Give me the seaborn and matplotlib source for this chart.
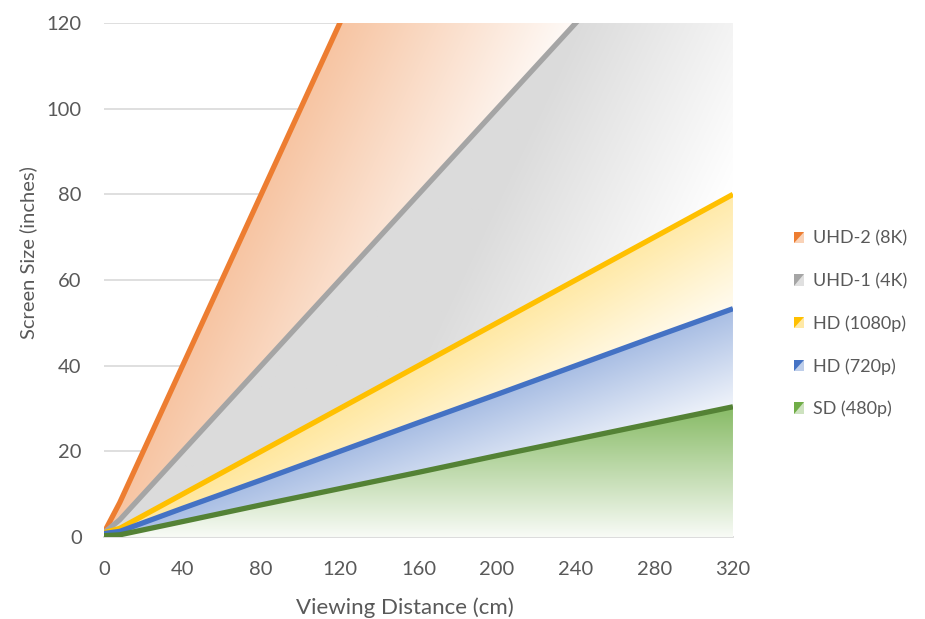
import numpy as np
import pandas as pd
import matplotlib
matplotlib.use("Agg")
import matplotlib.pyplot as plt
import seaborn as sns
from matplotlib.patches import Rectangle, Polygon
from matplotlib.legend_handler import HandlerBase
from matplotlib.colors import to_rgb

# Viewing distance (cm) and the largest screen size (inches) at which each
# resolution still looks sharp.
distance = [0, 8, 40, 80, 120, 160, 200, 240, 280, 320]
uhd2_8k = [1, 8, 40, 80, 120, 160, 200, 240, 280, 320]
uhd1_4k = [1, 4, 20, 40, 60, 80, 100, 120, 140, 160]
hd_1080p = [1, 2, 10, 20, 30, 40, 50, 60, 70, 80]
hd_720p = [0.8, 1.3, 6.7, 13.3, 20, 26.7, 33.3, 40, 46.7, 53.3]
sd_480p = [0.3, 0.5, 3.6, 7.5, 11.3, 15.1, 19.0, 22.8, 26.6, 30.4]

series_names = ["UHD-2 (8K)", "UHD-1 (4K)", "HD (1080p)", "HD (720p)", "SD (480p)"]
series_values = [uhd2_8k, uhd1_4k, hd_1080p, hd_720p, sd_480p]

line_colors = ["#ED7D31", "#A5A5A5", "#FFC000", "#4472C4", "#548235"]
fill_colors = ["#ED7D31", "#A5A5A5", "#FFC000", "#4472C4", "#70AD47"]
# linear shading of each area: strength = p + q*x + r*y, capped at kmax
shade = [
    (0.45, -0.00346, 0.00346, 0.45),
    (0.80, -0.0034, 0.0035, 0.40),
    (0.40, -0.0028, 0.0104, 0.38),
    (0.466, -0.00283, 0.017, 0.47),
    (0.05, 0.0, 0.026, 0.80),
]

x_ticks = [0, 40, 80, 120, 160, 200, 240, 280, 320]
y_ticks = [0, 20, 40, 60, 80, 100, 120]

sns.set_theme(style="white")
plt.rcParams["font.family"] = ["Lato", "DejaVu Sans"]
text_grey = "#595959"
grid_grey = "#D9D9D9"

df = pd.DataFrame({
    "distance": np.tile(distance, len(series_names)),
    "size": np.concatenate(series_values),
    "series": np.repeat(series_names, len(distance)),
})

fig = plt.figure(figsize=(9.25, 6.19), dpi=100)
ax = fig.add_axes([0.1124, 0.1325, 0.68, 0.8303])
ax.set_xlim(0, 320)
ax.set_ylim(0, 120)

# gradient-filled areas, each clipped to the region under its line
gx = np.linspace(0, 320, 640)
gy = np.linspace(0, 120, 480)
GX, GY = np.meshgrid(gx, gy)
for i, (name, vals) in enumerate(zip(series_names, series_values)):
    p, q, r, kmax = shade[i]
    k = np.clip(p + q * GX + r * GY, 0, kmax)[..., None]
    c = np.array(to_rgb(fill_colors[i]))
    img = 1 - k * (1 - c)
    poly = ax.fill_between(distance, vals, 0, facecolor="none",
                           edgecolor="none", zorder=1 + i * 0.1)
    im = ax.imshow(img, extent=[0, 320, 0, 120], origin="lower",
                   aspect="auto", interpolation="bilinear",
                   zorder=1 + i * 0.1)
    im.set_clip_path(poly.get_paths()[0], transform=ax.transData)

sns.lineplot(data=df, x="distance", y="size", hue="series",
             hue_order=series_names, palette=line_colors, linewidth=3.8,
             legend=False, ax=ax, zorder=3)
for ln in ax.lines:
    ln.set_solid_capstyle("butt")
    ln.set_solid_joinstyle("miter")

ax.set_xticks(x_ticks)
ax.set_yticks(y_ticks)
ax.yaxis.grid(True, color=grid_grey, linewidth=1.2, zorder=0)
ax.xaxis.grid(False)
ax.set_axisbelow(True)
for s in ["left", "right", "top"]:
    ax.spines[s].set_visible(False)
ax.spines["bottom"].set_color(grid_grey)
ax.spines["bottom"].set_linewidth(1.3)
ax.spines["bottom"].set_zorder(0.5)
ax.tick_params(axis="x", direction="in", length=5, width=1.2,
               color=grid_grey, pad=17.5, labelsize=14.5, labelcolor=text_grey)
ax.tick_params(axis="y", length=0, pad=16, labelsize=14.5, labelcolor=text_grey)

ax.set_xlabel("Viewing Distance (cm)", fontsize=16, color=text_grey)
ax.set_ylabel("Screen Size (inches)", fontsize=14.5, color=text_grey)
ax.xaxis.set_label_coords(0.479, -0.1167)
ax.yaxis.set_label_coords(-0.106, 0.5525)


class ShadedSwatch(HandlerBase):
    def create_artists(self, legend, orig_handle, xdescent, ydescent,
                       width, height, fontsize, trans):
        c = np.array(to_rgb(orig_handle.get_facecolor()))
        light = 1 - 0.35 * (1 - c)
        base = Rectangle((-xdescent, -ydescent), width, height,
                         facecolor=light, edgecolor="none", transform=trans)
        tri = Polygon([(-xdescent, -ydescent), (-xdescent, -ydescent + height),
                       (-xdescent + width, -ydescent + height)],
                      closed=True, facecolor=c, edgecolor="none",
                      transform=trans)
        return [base, tri]


handles = [Rectangle((0, 0), 1, 1, facecolor=col) for col in fill_colors]
leg = fig.legend(handles, series_names, loc="center left",
                 bbox_to_anchor=(0.8405, 0.4765), frameon=False,
                 fontsize=13, labelcolor=text_grey,
                 handler_map={Rectangle: ShadedSwatch()},
                 handlelength=0.55, handleheight=0.6, handletextpad=0.5,
                 labelspacing=1.45)

fig.savefig("out.png", dpi=100)
